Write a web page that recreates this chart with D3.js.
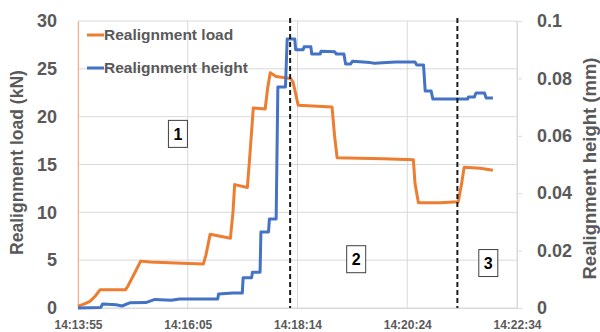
<!DOCTYPE html>
<html>
<head>
<meta charset="utf-8">
<script src="https://cdn.jsdelivr.net/npm/d3@7"></script>
<style>
  body { margin: 0; background: #fff; }
  text { font-family: "Liberation Sans", Arial, sans-serif; font-weight: bold; fill: #595959; }
</style>
</head>
<body>
<div id="chart"></div>
<script>
// seconds after 14:13:55
var tickSeconds = [0, 129.6, 259.2, 388.8, 518.4];
var tickLabels = ["14:13:55", "14:16:05", "14:18:14", "14:20:24", "14:22:34"];

var loadTimes = [0, 7, 14, 20, 26, 40, 56, 59, 66, 74, 85, 115, 148, 151, 156, 168, 180, 183, 185, 200, 203, 207, 221, 224, 227, 234, 251, 254, 258, 260, 300, 303, 306, 360, 396, 398, 402, 428, 449, 453, 456, 475, 490];
var loadValues = [0.2, 0.4, 0.7, 1.2, 1.9, 1.9, 1.9, 2.3, 3.5, 4.9, 4.8, 4.7, 4.6, 5.5, 7.7, 7.5, 7.3, 10, 12.9, 12.6, 16, 20.9, 20.8, 23, 24.6, 24.2, 24.0, 23.6, 22, 21.2, 21.0, 18, 15.7, 15.6, 15.5, 13, 11.0, 11.0, 11.1, 13, 14.7, 14.6, 14.4];

var heightTimes = [0, 27, 29, 30, 45, 52, 61, 80, 91, 110, 120, 165, 166, 183, 194, 195, 205, 206, 215, 216, 225, 226, 234, 236, 245, 247, 256, 257, 266, 267, 275, 276, 286, 287, 303, 305, 314, 316, 322, 324, 345, 350, 375, 398, 400, 408, 410, 417, 419, 460, 461, 468, 470, 480, 482, 490];
var heightValues = [0, 0.0002, 0.0014, 0.0014, 0.0011, 0.0007, 0.0018, 0.0019, 0.003, 0.0027, 0.0031, 0.0031, 0.0049, 0.0052, 0.0052, 0.0105, 0.0105, 0.0125, 0.0125, 0.0265, 0.0265, 0.031, 0.031, 0.077, 0.077, 0.0937, 0.0937, 0.090, 0.090, 0.091, 0.091, 0.0885, 0.0885, 0.0895, 0.0893, 0.0885, 0.0885, 0.085, 0.085, 0.086, 0.0855, 0.0853, 0.0857, 0.0857, 0.0847, 0.0847, 0.0756, 0.0756, 0.0728, 0.0728, 0.0735, 0.0735, 0.0749, 0.0749, 0.0732, 0.0732];

var phaseTimes = [250.5, 448];
var boxLabels = ["1", "2", "3"];
var boxTimes = [118, 328.5, 484.5];
var boxLoads = [18.2, 5.1, 4.7];

var seriesNames = ["Realignment load", "Realignment height"];
var seriesColors = ["#ED7D31", "#4472C4"];

var margin = {top: 21, right: 83, bottom: 24, left: 78};
var width = 600 - margin.left - margin.right,
    height = 332 - margin.top - margin.bottom;

var svg = d3.select("#chart").append("svg")
    .attr("width", 600)
    .attr("height", 332)
    .append("g")
    .attr("transform", "translate(" + margin.left + "," + margin.top + ")");

var x = d3.scaleLinear().domain([0, 518.4]).range([0, width]);
var yL = d3.scaleLinear().domain([0, 30]).range([height, 0]);
var yR = d3.scaleLinear().domain([0, 0.1]).range([height, 0]);

// gridlines
svg.append("g")
    .selectAll("line.h")
    .data(yL.ticks(6))
    .enter().append("line")
    .attr("x1", 0).attr("x2", width)
    .attr("y1", function(d) { return yL(d); })
    .attr("y2", function(d) { return yL(d); })
    .attr("stroke", "#d9d9d9").attr("stroke-width", 1);

svg.append("g")
    .selectAll("line.v")
    .data(tickSeconds)
    .enter().append("line")
    .attr("y1", 0).attr("y2", height)
    .attr("x1", function(d) { return x(d); })
    .attr("x2", function(d) { return x(d); })
    .attr("stroke", "#d9d9d9").attr("stroke-width", 1);

// left axis
var leftAxis = svg.append("g")
    .call(d3.axisLeft(yL).ticks(6).tickSize(0).tickPadding(21));
leftAxis.select(".domain").attr("stroke", "#F4B183");
leftAxis.selectAll("text").style("font-size", "18px").attr("fill", "#595959");

// right axis
var rightAxis = svg.append("g")
    .attr("transform", "translate(" + width + ",0)")
    .call(d3.axisRight(yR).tickValues([0, 0.02, 0.04, 0.06, 0.08, 0.1])
        .tickFormat(function(d) { return d === 0 ? "0" : d3.format("")(+d.toFixed(2)); })
        .tickSize(5).tickPadding(15));
rightAxis.select(".domain").attr("stroke", "#d9d9d9");
rightAxis.selectAll("line").attr("stroke", "#d9d9d9");
rightAxis.selectAll("text").style("font-size", "18px").attr("fill", "#595959");

// bottom axis
var bottomAxis = svg.append("g")
    .attr("transform", "translate(0," + height + ")")
    .call(d3.axisBottom(x).tickValues(tickSeconds)
        .tickFormat(function(d, i) { return tickLabels[i]; })
        .tickSize(0).tickPadding(12));
bottomAxis.select(".domain").attr("stroke", "#d9d9d9");
bottomAxis.selectAll("text").style("font-size", "12px").attr("fill", "#595959");

// axis titles
svg.append("text")
    .attr("transform", "translate(" + (-55) + "," + (yL(15) - 2) + ") rotate(-90)")
    .style("text-anchor", "middle")
    .style("font-size", "17.5px")
    .text("Realignment load (kN)");

svg.append("text")
    .attr("transform", "translate(" + (width + 79) + "," + (yL(15) + 4) + ") rotate(-90)")
    .style("text-anchor", "middle")
    .style("font-size", "18.5px")
    .text("Realignment height (mm)");

// lines
var loadData = loadTimes.map(function(t, i) { return {t: t, v: loadValues[i]}; });
var heightData = heightTimes.map(function(t, i) { return {t: t, v: heightValues[i]}; });

svg.append("path")
    .datum(loadData)
    .attr("fill", "none")
    .attr("stroke", seriesColors[0])
    .attr("stroke-width", 3)
    .attr("stroke-linejoin", "round")
    .attr("d", d3.line().x(function(d) { return x(d.t); }).y(function(d) { return yL(d.v); }));

svg.append("path")
    .datum(heightData)
    .attr("fill", "none")
    .attr("stroke", seriesColors[1])
    .attr("stroke-width", 3)
    .attr("stroke-linejoin", "round")
    .attr("d", d3.line().x(function(d) { return x(d.t); }).y(function(d) { return yR(d.v); }));

// phase boundaries
svg.selectAll("line.phase")
    .data(phaseTimes)
    .enter().append("line")
    .attr("x1", function(d) { return x(d); })
    .attr("x2", function(d) { return x(d); })
    .attr("y1", -3).attr("y2", height)
    .attr("stroke", "#1a1a1a")
    .attr("stroke-width", 2)
    .attr("stroke-dasharray", "5,3");

// phase boxes
var boxes = svg.selectAll("g.box")
    .data(boxLabels)
    .enter().append("g")
    .attr("transform", function(d, i) { return "translate(" + x(boxTimes[i]) + "," + yL(boxLoads[i]) + ")"; });
boxes.append("rect")
    .attr("x", -9.5).attr("y", -13.5)
    .attr("width", 19).attr("height", 27)
    .attr("fill", "#fff")
    .attr("stroke", "#404040")
    .attr("stroke-width", 1);
boxes.append("text")
    .attr("text-anchor", "middle")
    .attr("dy", "0.36em")
    .style("font-size", "16px")
    .style("fill", "#000")
    .text(function(d) { return d; });

// legend
var legend = svg.selectAll("g.legend")
    .data(seriesNames)
    .enter().append("g")
    .attr("transform", function(d, i) { return "translate(9," + (14 + i * 33) + ")"; });
legend.append("line")
    .attr("x1", 0).attr("x2", 17)
    .attr("stroke", function(d, i) { return seriesColors[i]; })
    .attr("stroke-width", 3);
legend.append("text")
    .attr("x", 17)
    .attr("dy", "0.35em")
    .style("font-size", "15.5px")
    .text(function(d) { return d; });
</script>
</body>
</html>
